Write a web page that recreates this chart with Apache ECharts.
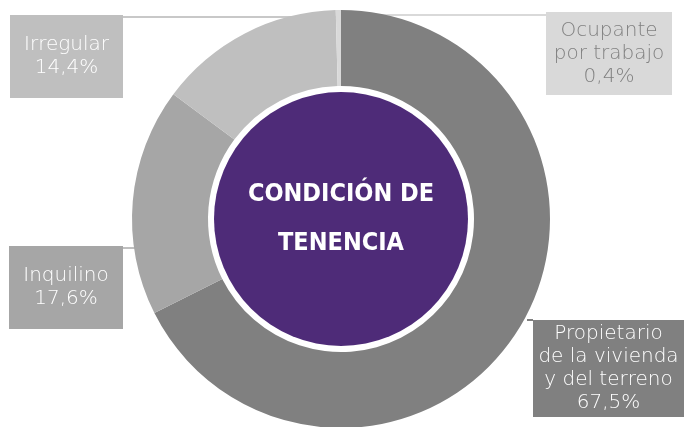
<!DOCTYPE html>
<html lang="es">
<head>
	<meta charset="UTF-8">
	<title>Condición de tenencia</title>
	<script src="https://cdn.jsdelivr.net/npm/echarts@6/dist/echarts.min.js"></script>
	<style>
		html,body{height:100%;margin:0;background:#fff;}
	</style>
</head>
<body>
	<div id="chart" style="width:684px; height:427px;"></div>
	<script>
	// datos
	var categorias = ['Propietario\nde la vivienda\ny del terreno', 'Inquilino', 'Irregular', 'Ocupante\npor trabajo'];
	var valores = [67.5, 17.6, 14.4, 0.4];
	var etiquetas = ['67,5%', '17,6%', '14,4%', '0,4%'];
	var titulo = 'CONDICIÓN DE\nTENENCIA';

	var colores = ['#808080', '#a6a6a6', '#bfbfbf', '#d9d9d9'];
	var colorTexto = ['#fff', '#fff', '#fff', '#808080'];
	var colorLinea = ['#808080', '#bfbfbf', '#c8c8c8', '#d9d9d9'];
	// cajas de etiqueta: centro x, centro y, ancho, padding vertical
	var cajas = [
		[608.5, 368.5, 151, 2.5],
		[66, 287.5, 114, 18.5],
		[66.5, 56.5, 113, 18.5],
		[609, 53.5, 126, 7]
	];
	var lineas = [
		[[527, 320], [533, 320]],
		[[123, 248], [136, 248]],
		[[123, 17], [338, 17]],
		[[343, 15], [546, 15]]
	];

	var datos = categorias.map(function(c, i){
		return {
			name: c,
			value: valores[i],
			itemStyle: {color: colores[i]},
			label: {
				formatter: c + '\n' + etiquetas[i],
				color: colorTexto[i],
				backgroundColor: colores[i],
				width: cajas[i][2],
				padding: [cajas[i][3], 0]
			},
			labelLine: {lineStyle: {color: colorLinea[i]}}
		};
	});

	var myChart = echarts.init(document.getElementById('chart'));
	var option = {
		animation: false,
		series: [{
			type: 'pie',
			center: [341, 219],
			radius: [133, 209],
			startAngle: 90,
			clockwise: true,
			silent: true,
			data: datos,
			label: {
				show: true,
				position: 'outside',
				fontFamily: 'DejaVu Sans',
				fontWeight: 300,
				fontSize: 20,
				lineHeight: 23,
				align: 'center',
				overflow: 'none'
			},
			labelLine: {show: true, lineStyle: {width: 2}},
			labelLayout: function(p){
				var b = cajas[p.dataIndex];
				return {
					x: b[0],
					y: b[1],
					align: 'center',
					verticalAlign: 'middle',
					labelLinePoints: [lineas[p.dataIndex][0], lineas[p.dataIndex][0], lineas[p.dataIndex][1]]
				};
			}
		}, {
			type: 'pie',
			center: [341, 219],
			radius: [0, 127],
			silent: true,
			data: [{value: 1, name: titulo, itemStyle: {color: '#4e2b78'}}],
			label: {
				show: true,
				position: 'center',
				color: '#fff',
				fontFamily: '"DejaVu Sans Condensed", "Liberation Sans Narrow", "Roboto Condensed", Roboto, sans-serif',
				fontWeight: 'bold',
				fontSize: 25,
				lineHeight: 49
			},
			labelLine: {show: false}
		}]
	};
	myChart.setOption(option);
	</script>
</body>
</html>
